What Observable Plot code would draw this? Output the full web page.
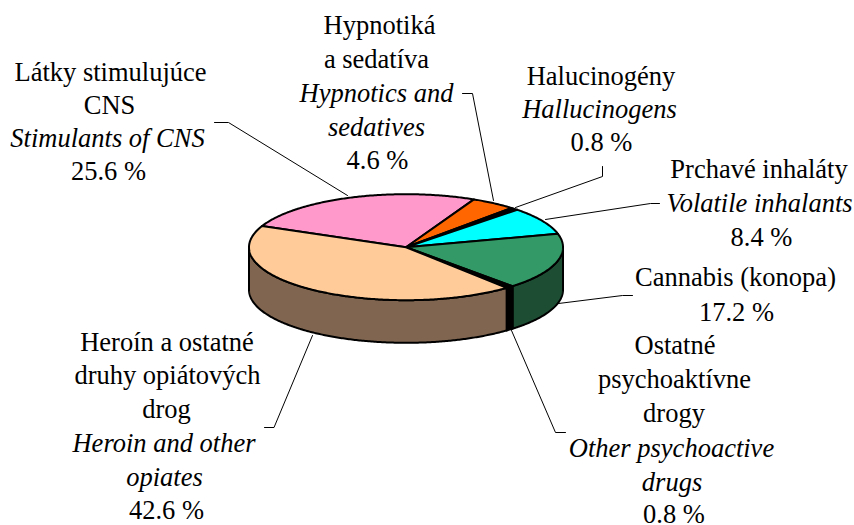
<!DOCTYPE html>
<html><head><meta charset="utf-8">
<style>html,body{margin:0;padding:0;background:#fff}svg{display:block}</style>
<script src="https://cdn.jsdelivr.net/npm/d3@7"></script>
<script src="https://cdn.jsdelivr.net/npm/@observablehq/plot@0.6"></script>
</head><body><div id="chart"></div>
<script>
const categories = ["Látky stimulujúce CNS","Hypnotiká a sedatíva","Halucinogény","Prchavé inhaláty","Cannabis (konopa)","Ostatné psychoaktívne drogy","Heroín a ostatné druhy opiátových drog"];
const values = [25.6,4.6,0.8,8.4,17.2,0.8,42.6];
const topColors = ["#FF99CC","#FF6600","#000000","#00FFFF","#339966","#000000","#FFCC99"];
const sideColors = ["#804C66","#803300","#000000","#008080","#1D4D33","#000000","#806650"];

// label lines: [text, italic?, x, y]
const labelLines = [
 ["Hypnotiká",0,379,25],["a sedatíva",0,376,59.5],["Hypnotics and",1,376,93],["sedatives",1,376,127.5],["4.6 %",0,377,160],
 ["Látky stimulujúce",0,110,72],["CNS",0,109,105],["Stimulants of CNS",1,107,138],["25.6 %",0,108,171],
 ["Halucinogény",0,600.5,76],["Hallucinogens",1,599,109],["0.8 %",0,601,142],
 ["Prchavé inhaláty",0,758.5,169],["Volatile inhalants",1,759,203],["8.4 %",0,761,237],
 ["Cannabis (konopa)",0,735,277],["17.2 %",0,736,312],
 ["Ostatné",0,674.5,345.5],["psychoaktívne",0,674,379.5],["drogy",0,673.5,413.5],["Other psychoactive",1,671,448.5],["drugs",1,671.5,482.5],["0.8 %",0,673.5,514.5],
 ["Heroín a ostatné",0,166.5,342.5],["druhy opiátových",0,167,375],["drog",0,166,409],["Heroin and other",1,163.5,443],["opiates",1,164,477],["42.6 %",0,166,510.5]
];
const leaders = [
 [[214,122],[228,122],[347,195]],
 [[462,93],[472,93],[493,200]],
 [[602,166],[602,176],[515,207]],
 [[659,203],[650,203],[545,219]],
 [[632,295],[622,295],[558,303]],
 [[565,432],[555,432],[511,330]],
 [[264,427],[273.5,427],[312,335]]
];

const cx=405.5, cy=246.7, rx=157, ry=53, depth=42.6, start=293.5*Math.PI/180;
const pie = d3.pie().sort(null).startAngle(start).endAngle(start+2*Math.PI)(values);
const at = (a,dz=0)=>({x:cx+rx*Math.sin(a), y:cy-ry*Math.cos(a)+dz});
const arc = (a0,a1,dz=0)=>{const n=Math.max(2,Math.ceil((a1-a0)/0.01));return d3.range(n+1).map(i=>at(a0+(a1-a0)*i/n,dz));};

const tops=[], sides=[];
pie.forEach((p,i)=>{
  const pts=[{x:cx,y:cy},...arc(p.startAngle,p.endAngle),{x:cx,y:cy}];
  pts.forEach(q=>tops.push({...q,key:i,color:topColors[i]}));
  for(const off of [0,2*Math.PI]){
    const a0=Math.max(p.startAngle-off,Math.PI/2), a1=Math.min(p.endAngle-off,3*Math.PI/2);
    if(a1>a0){
      const s=[...arc(a0,a1),...arc(a0,a1,depth).reverse()]; s.push(s[0]);
      s.forEach(q=>sides.push({...q,key:i+"-"+off,color:sideColors[i]}));
    }
  }
});
const leaderRows = leaders.flatMap((l,i)=>l.map(([x,y])=>({x,y,key:i})));
const textStyle={x:d=>d[2],y:d=>d[3],text:d=>d[0],textAnchor:"middle",lineAnchor:"middle",fill:"black",fontSize:26.5};

const plot = Plot.plot({
  width:854,height:525,margin:0,
  style:{fontFamily:"'Liberation Serif',serif",background:"#fff"},
  x:{domain:[0,854],range:[0,854],axis:null},
  y:{domain:[0,525],range:[0,525],axis:null},
  color:{type:"identity"},
  marks:[
    Plot.line(leaderRows,{x:"x",y:"y",z:"key",stroke:"black",strokeWidth:1,curve:"linear"}),
    Plot.line(sides,{x:"x",y:"y",z:"key",fill:"color",stroke:"black",strokeWidth:2,curve:"linear",strokeLinejoin:"round"}),
    Plot.line(tops,{x:"x",y:"y",z:"key",fill:"color",stroke:"black",strokeWidth:2,curve:"linear",strokeLinejoin:"round"}),
    Plot.text(labelLines.filter(d=>!d[1]),textStyle),
    Plot.text(labelLines.filter(d=>d[1]),{...textStyle,fontStyle:"italic"})
  ]
});
document.getElementById("chart").appendChild(plot);
</script></body></html>
